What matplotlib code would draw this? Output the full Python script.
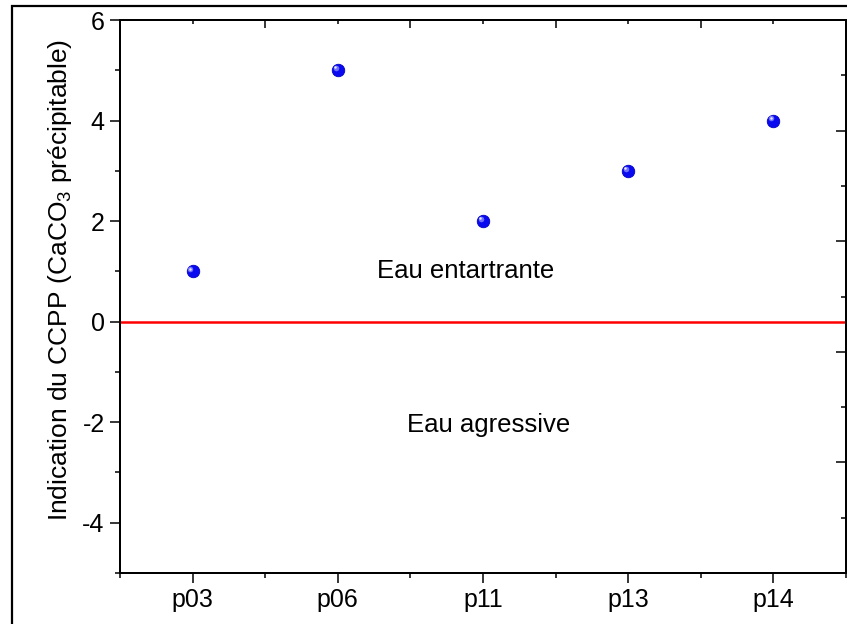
import matplotlib
matplotlib.use("Agg")
import matplotlib.pyplot as plt
import matplotlib.transforms as mtransforms
from matplotlib.patches import Rectangle
from matplotlib.ticker import MultipleLocator, FixedLocator

plt.rcParams['font.family'] = ['Liberation Sans', 'DejaVu Sans']
plt.rcParams['mathtext.fontset'] = 'custom'
plt.rcParams['mathtext.rm'] = 'Liberation Sans'
plt.rcParams['mathtext.it'] = 'Liberation Sans'

categories = ['p03', 'p06', 'p11', 'p13', 'p14']
ccpp = [1, 5, 2, 3, 4]
y_ticks = [-4, -2, 0, 2, 4, 6]
ylabel = r'Indication du CCPP (CaCO$_3$ précipitable)'
zone_labels = ['Eau entartrante', 'Eau agressive']

fig = plt.figure(figsize=(8.47, 6.24), dpi=100)
ax = fig.add_axes([120/847, 51/624, 726/847, 553/624])

x = list(range(1, len(categories) + 1))
ax.set_xlim(0.5, len(categories) + 0.5)
ax.set_ylim(-5, 6)

ax.axhline(0, color='#ff0000', lw=1.8, zorder=2)

ax.plot(x, ccpp, 'o', ms=9, color='#0a0af0', mec='#0000c8', mew=0.6, zorder=3)
off = mtransforms.ScaledTranslation(-1.6/72, 1.6/72, fig.dpi_scale_trans)
ax.plot(x, ccpp, 'o', ms=4, color='#7070ff', mew=0, zorder=4,
        transform=ax.transData + off)
off2 = mtransforms.ScaledTranslation(-2.0/72, 2.0/72, fig.dpi_scale_trans)
ax.plot(x, ccpp, 'o', ms=1.8, color='#e8e8ff', mew=0, zorder=5,
        transform=ax.transData + off2)

ax.text(2.88, 1.0, zone_labels[0], fontsize=18.5, ha='center', va='center')
ax.text(3.04, -2.05, zone_labels[1], fontsize=18.5, ha='center', va='center')

ax.set_xticks(x)
ax.set_xticklabels(categories)
ax.xaxis.set_minor_locator(FixedLocator([i + 0.5 for i in range(0, len(categories) + 1)]))
ax.set_yticks(y_ticks)
ax.set_yticklabels([str(v) for v in y_ticks])
ax.yaxis.set_minor_locator(MultipleLocator(1))
ax.tick_params(which='major', direction='out', length=7, width=1.1, labelsize=18, pad=4)
ax.tick_params(which='minor', direction='out', length=3.5, width=1.1)
ax.set_ylabel(ylabel, fontsize=19, labelpad=6)
ax.yaxis.set_label_coords(-0.064, 0.53)

# right axis (independent tick marks)
ax2 = ax.twinx()
ax2.set_ylim(0, 5)
ax2.set_yticks([1, 2, 3, 4])
ax2.yaxis.set_minor_locator(FixedLocator([0.5, 1.5, 2.5, 3.5, 4.5]))
ax2.tick_params(which='major', direction='in', length=7, width=1.1, labelright=False)
ax2.tick_params(which='minor', direction='in', length=3.5, width=1.1)

# top axis
ax3 = ax.twiny()
ax3.set_xlim(ax.get_xlim())
ax3.set_xticks([i + 0.5 for i in range(1, len(categories))])
ax3.xaxis.set_minor_locator(FixedLocator(x))
ax3.tick_params(which='major', direction='in', length=6, width=1.1, labeltop=False)
ax3.tick_params(which='minor', direction='in', length=3, width=1.1)

for a in (ax, ax2, ax3):
    for s in a.spines.values():
        s.set_linewidth(1.3)

fig.patches.append(Rectangle((12/847, -0.1), 1.2, 0.1 + 618/624,
                             transform=fig.transFigure, fill=False,
                             edgecolor='black', lw=1.6, zorder=10))

fig.savefig('out.png', dpi=100)
